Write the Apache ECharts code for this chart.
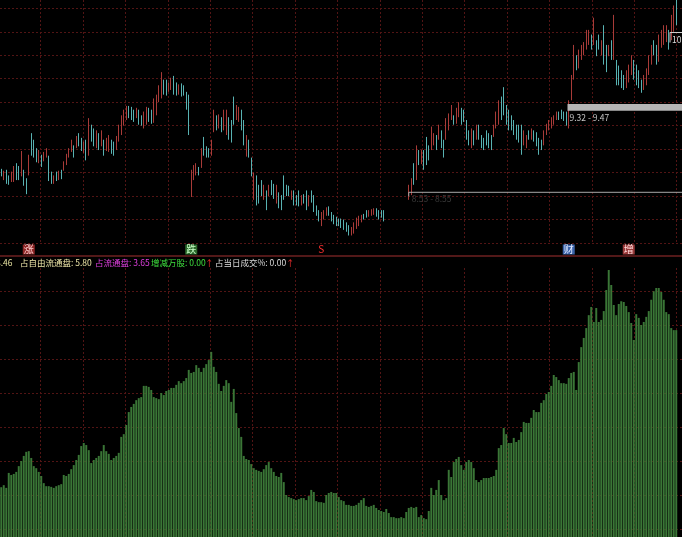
<!DOCTYPE html>
<html><head><meta charset="utf-8">
<script src="https://cdn.jsdelivr.net/npm/echarts@6/dist/echarts.min.js"></script>
<style>html,body{margin:0;padding:0;background:#000;overflow:hidden}#c{width:682px;height:537px}</style>
</head><body><div id="c"></div><script>
// ---------- data ----------
const opens = [
8.79,8.67,8.78,8.72,8.65,8.65,8.85,8.82,8.71,8.78,
8.69,8.72,9.17,9.10,9.01,8.85,8.94,8.87,8.91,8.93,
8.76,8.63,8.76,8.67,8.78,8.77,8.83,8.91,8.97,9.04,
9.01,9.17,9.12,8.96,9.10,8.93,9.26,9.22,9.01,9.17,
9.03,9.10,8.98,8.97,9.10,9.08,8.99,9.08,9.15,9.25,
9.31,9.46,9.45,9.42,9.33,9.42,9.36,9.22,9.26,9.44,
9.42,9.28,9.36,9.50,9.54,9.74,9.74,9.61,9.63,9.78,
9.71,9.58,9.70,9.68,9.61,9.58,8.49,8.67,8.72,8.81,
8.80,9.13,9.03,9.01,8.93,9.18,9.36,9.22,9.34,9.20,
9.15,9.34,9.31,9.56,9.31,9.29,9.42,9.31,8.92,9.10,
8.91,8.46,8.72,8.62,8.67,8.46,8.56,8.50,8.67,8.63,
8.42,8.54,8.51,8.72,8.62,8.61,8.46,8.56,8.51,8.56,
8.40,8.52,8.56,8.39,8.56,8.51,8.40,8.35,8.18,8.25,
8.29,8.39,8.33,8.30,8.28,8.26,8.26,8.25,8.22,8.19,
8.08,8.10,8.15,8.18,8.22,8.31,8.35,8.28,8.29,8.30,
8.37,8.35,8.35,8.35,null,null,null,null,null,null,
null,null,null,8.46,8.51,8.85,8.67,8.99,8.84,8.99,
9.13,9.04,8.99,9.04,9.15,9.10,9.20,9.10,9.10,9.20,
9.31,9.36,9.27,9.34,9.44,9.42,9.31,9.20,9.01,9.20,
9.10,9.26,9.15,9.12,9.20,9.17,9.15,9.13,9.22,9.26,
9.56,9.66,9.47,9.42,9.36,9.31,9.26,9.26,9.26,9.04,
9.01,9.20,9.10,9.20,9.18,9.12,9.10,9.04,9.15,9.20,
9.22,9.26,9.31,9.40,9.42,9.40,9.40,9.22,9.52,9.74,
10.00,9.86,9.95,10.00,10.06,10.11,10.22,10.11,10.16,10.22,
10.00,10.32,10.11,9.99,10.16,9.95,9.95,9.89,9.84,9.79,
9.65,9.71,9.79,9.95,9.90,9.84,9.74,9.63,9.68,9.79,
9.90,10.16,10.11,9.93,10.08,10.11,10.14,10.27,10.16,10.25,
10.59];
const closes = [
8.71,8.77,8.63,8.62,8.76,8.82,8.67,8.67,8.98,8.61,
8.52,8.94,8.93,8.91,8.86,8.99,8.81,8.97,9.01,8.66,
8.63,8.72,8.66,8.77,8.68,8.87,8.95,9.01,9.10,8.91,
9.14,9.03,8.98,9.08,8.88,9.33,9.08,9.03,9.20,8.99,
9.20,8.93,9.12,9.15,8.95,8.93,9.14,9.26,9.36,9.42,
9.46,9.33,9.31,9.29,9.44,9.26,9.25,9.40,9.45,9.29,
9.27,9.54,9.58,9.68,9.82,9.58,9.57,9.71,9.76,9.58,
9.57,9.69,9.56,9.57,9.42,9.15,8.78,8.83,8.85,8.72,
9.01,8.93,8.91,8.91,9.10,9.42,9.20,9.37,9.18,9.42,
9.42,9.10,9.07,9.26,9.47,9.45,9.20,9.04,9.15,8.91,
8.71,8.75,8.40,8.42,8.50,8.62,8.35,8.62,8.51,8.47,
8.62,8.37,8.35,8.46,8.50,8.50,8.56,8.40,8.40,8.39,
8.51,8.42,8.35,8.51,8.43,8.33,8.29,8.23,8.33,8.35,
8.38,8.29,8.23,8.20,8.18,8.18,8.16,8.14,8.12,8.08,
8.17,8.22,8.27,8.29,8.30,8.25,8.27,8.35,8.36,8.37,
8.28,8.25,8.27,8.23,null,null,null,null,null,null,
null,null,null,8.62,8.69,8.62,9.04,8.83,8.99,8.78,
8.83,8.88,9.24,9.17,8.99,9.26,9.01,8.91,9.33,9.38,
9.47,9.26,9.44,9.50,9.26,9.29,9.10,9.04,9.22,9.04,
9.26,9.10,9.01,8.99,9.04,9.01,8.99,9.26,9.40,9.52,
9.31,9.36,9.26,9.20,9.20,9.15,9.10,9.07,8.94,9.20,
9.15,9.10,9.22,9.08,9.03,8.94,8.99,9.20,9.27,9.31,
9.34,9.36,9.40,9.31,9.32,9.30,9.25,9.52,9.79,10.11,
9.84,10.06,10.11,10.14,10.27,10.27,10.06,10.40,9.99,10.06,
10.16,9.90,9.82,10.11,9.95,10.43,9.68,9.68,9.65,9.63,
9.84,9.90,10.00,9.74,9.68,9.65,9.60,9.79,9.86,10.00,
10.11,10.00,9.90,10.22,10.27,10.32,10.32,10.06,10.43,10.53,
10.32];
const lows = [
8.71,8.67,8.63,8.62,8.65,8.65,8.67,8.67,8.71,8.61,
8.52,8.72,8.93,8.91,8.86,8.85,8.81,8.87,8.91,8.66,
8.63,8.63,8.66,8.67,8.68,8.77,8.83,8.91,8.97,8.91,
9.01,9.03,8.98,8.96,8.88,8.93,9.08,9.03,9.01,8.99,
9.03,8.93,8.98,8.97,8.95,8.93,8.99,9.08,9.15,9.25,
9.31,9.33,9.31,9.29,9.33,9.26,9.25,9.22,9.26,9.29,
9.27,9.28,9.36,9.50,9.54,9.58,9.57,9.61,9.63,9.58,
9.57,9.58,9.56,9.57,9.42,9.15,8.49,8.67,8.72,8.72,
8.80,8.93,8.91,8.91,8.93,9.18,9.20,9.22,9.18,9.20,
9.15,9.10,9.07,9.26,9.31,9.29,9.20,9.04,8.92,8.91,
8.71,8.46,8.40,8.42,8.50,8.46,8.35,8.50,8.51,8.47,
8.42,8.37,8.35,8.46,8.50,8.50,8.46,8.40,8.40,8.39,
8.40,8.42,8.35,8.39,8.43,8.33,8.29,8.23,8.18,8.25,
8.29,8.29,8.23,8.20,8.18,8.18,8.16,8.14,8.12,8.08,
8.08,8.10,8.15,8.18,8.22,8.25,8.27,8.28,8.29,8.30,
8.28,8.25,8.27,8.23,null,null,null,null,null,null,
null,null,null,8.46,8.51,8.62,8.67,8.83,8.84,8.78,
8.83,8.88,8.99,9.04,8.99,9.10,9.01,8.91,9.10,9.20,
9.31,9.26,9.27,9.34,9.26,9.29,9.10,9.04,9.01,9.04,
9.10,9.10,9.01,8.99,9.04,9.01,8.99,9.13,9.22,9.26,
9.31,9.36,9.26,9.20,9.20,9.15,9.10,9.07,8.94,9.04,
9.01,9.10,9.10,9.08,9.03,8.94,8.99,9.04,9.15,9.20,
9.22,9.26,9.31,9.31,9.32,9.30,9.25,9.22,9.52,9.74,
9.84,9.86,9.95,10.00,10.06,10.11,10.06,10.11,9.99,10.06,
10.00,9.90,9.82,9.99,9.95,9.95,9.68,9.68,9.65,9.63,
9.65,9.71,9.79,9.74,9.68,9.65,9.60,9.63,9.68,9.79,
9.90,10.00,9.90,9.93,10.08,10.11,10.14,10.06,10.16,10.25,
10.32];
const highs = [
8.79,8.77,8.78,8.72,8.76,8.82,8.85,8.82,8.98,8.78,
8.69,8.94,9.17,9.10,9.01,8.99,8.94,8.97,9.01,8.93,
8.76,8.72,8.76,8.77,8.78,8.87,8.95,9.01,9.10,9.04,
9.14,9.17,9.12,9.08,9.10,9.33,9.26,9.22,9.20,9.17,
9.20,9.10,9.12,9.15,9.10,9.08,9.14,9.26,9.36,9.42,
9.46,9.46,9.45,9.42,9.44,9.42,9.36,9.40,9.45,9.44,
9.42,9.54,9.58,9.68,9.82,9.74,9.74,9.71,9.76,9.78,
9.71,9.69,9.70,9.68,9.61,9.58,8.78,8.83,8.85,8.81,
9.01,9.13,9.03,9.01,9.10,9.42,9.36,9.37,9.34,9.42,
9.42,9.34,9.31,9.56,9.47,9.45,9.42,9.31,9.15,9.10,
8.91,8.75,8.72,8.62,8.67,8.62,8.56,8.62,8.67,8.63,
8.62,8.54,8.51,8.72,8.62,8.61,8.56,8.56,8.51,8.56,
8.51,8.52,8.56,8.51,8.56,8.51,8.40,8.35,8.33,8.35,
8.38,8.39,8.33,8.30,8.28,8.26,8.26,8.25,8.22,8.19,
8.17,8.22,8.27,8.29,8.30,8.31,8.35,8.35,8.36,8.37,
8.37,8.35,8.35,8.35,null,null,null,null,null,null,
null,null,null,8.62,8.69,8.85,9.04,8.99,8.99,8.99,
9.13,9.04,9.24,9.17,9.15,9.26,9.20,9.10,9.33,9.38,
9.47,9.36,9.44,9.50,9.44,9.42,9.31,9.20,9.22,9.20,
9.26,9.26,9.15,9.12,9.20,9.17,9.15,9.26,9.40,9.52,
9.56,9.66,9.47,9.42,9.36,9.31,9.26,9.26,9.26,9.20,
9.15,9.20,9.22,9.20,9.18,9.12,9.10,9.20,9.27,9.31,
9.34,9.36,9.40,9.40,9.42,9.40,9.40,9.52,9.79,10.11,
10.00,10.06,10.11,10.14,10.27,10.27,10.22,10.40,10.16,10.22,
10.16,10.32,10.11,10.11,10.16,10.43,9.95,9.89,9.84,9.79,
9.84,9.90,10.00,9.95,9.90,9.84,9.74,9.79,9.86,10.00,
10.11,10.16,10.11,10.22,10.27,10.32,10.32,10.27,10.43,10.53,
10.59];
const holdings = [
2.25,2.31,2.23,2.67,2.61,2.64,2.70,2.87,3.02,3.17,
3.29,3.31,3.11,2.87,2.81,2.70,2.58,2.37,2.28,2.28,
2.26,2.23,2.28,2.31,2.34,2.61,2.58,2.64,2.78,2.90,
3.05,3.20,3.46,3.55,3.49,3.34,2.96,3.05,3.11,3.17,
3.31,3.49,3.31,3.23,3.05,3.11,3.17,3.26,3.73,3.81,
4.08,4.46,4.61,4.70,4.81,4.87,4.90,5.23,5.23,5.20,
5.11,4.90,4.87,4.84,5.02,4.96,5.08,5.11,5.17,5.17,
5.26,5.37,5.31,5.37,5.46,5.70,5.61,5.64,5.84,5.76,
5.64,5.76,5.87,5.99,6.23,5.79,5.64,5.29,5.08,5.23,
5.40,5.31,4.76,5.14,4.43,3.99,3.73,3.17,3.08,3.05,
2.93,2.81,2.76,2.73,2.70,2.78,2.90,2.99,2.81,2.70,
2.58,2.55,2.67,2.40,2.02,1.96,1.93,1.90,1.87,1.90,
1.93,1.93,1.87,1.99,2.17,2.11,1.84,1.81,1.81,1.79,
2.02,2.08,2.11,2.08,2.08,1.96,1.87,1.84,1.73,1.73,
1.70,1.70,1.73,1.79,1.87,1.93,1.70,1.67,1.70,1.73,
1.64,1.58,1.55,1.52,1.61,1.49,1.37,1.37,1.34,1.34,
1.37,1.34,1.52,1.64,1.67,1.64,1.67,1.37,1.43,1.34,
1.31,1.55,2.23,2.02,2.17,2.46,2.02,1.87,1.93,2.76,
2.55,2.99,3.08,3.14,2.90,2.76,2.99,3.05,2.99,2.81,
2.46,2.40,2.46,2.52,2.52,2.52,2.55,2.58,2.76,3.40,
3.49,3.99,3.81,3.55,3.55,3.70,3.58,3.64,3.87,4.17,
4.14,4.14,4.29,4.52,4.46,4.46,4.73,4.81,4.99,5.05,
5.23,5.55,5.49,5.40,5.31,5.31,5.29,5.46,5.61,5.64,
5.11,5.93,6.37,6.64,6.93,7.31,7.55,7.11,7.52,7.11,
7.17,7.43,8.05,8.64,8.20,7.61,7.31,7.64,7.72,7.70,
7.58,7.40,7.08,6.58,7.34,7.23,7.02,7.11,7.26,7.43,
7.76,8.01,8.11,8.11,7.99,7.76,7.40,7.34,6.93,6.87,
6.87];
const categories = opens.map((_, i) => String(i + 1));
const eventIndex = [11, 76, 128, 227, 251];
const eventText = ['涨', '跌', 'S', '财', '增'];
const gapBand = [9.32, 9.47];
const gapLow = [8.53, 8.55];
const gapHigh = [10.24, 10.26];
const legendItems = [
  {text: '8.46', color: '#e6e2a0'},
  {text: '占自由流通盘: 5.80', color: '#eee6a8'},
  {text: '占流通盘: 3.65', color: '#e040e0'},
  {text: '增减万股: 0.00', color: '#3ee03e'},
  {text: '↑', color: '#ff3030'},
  {text: '占当日成交%: 0.00', color: '#dedede'},
  {text: '↑', color: '#ff3030'}
];

// ---------- chart ----------
const FONT = '"Noto Sans CJK SC", "Noto Sans", sans-serif';
const GRID_RED = '#521414';
const dash = {color: GRID_RED, type: [2, 2], width: 1};
const eventStyles = [
  {fill: '#ffd0d0', backgroundColor: '#8e2626'},
  {fill: '#c8ffc8', backgroundColor: '#2c6a2c'},
  {fill: '#ff3030', backgroundColor: 'transparent'},
  {fill: '#dfe8ff', backgroundColor: '#3a62a8'},
  {fill: '#ffd8d8', backgroundColor: '#9a3a3a'}
];
const legendX = [-4, 20, 95, 151, 205, 215, 286];

const candleData = opens.map((o, i) => o == null ? ['-', '-', '-', '-'] : [o, closes[i], lows[i], highs[i]]);

const hidden = {show: false};
const lineAxis = (extra) => Object.assign({
  type: 'value', show: true, axisLine: hidden, axisTick: hidden, axisLabel: hidden,
  splitLine: {show: true, lineStyle: dash}
}, extra);
const g = (o) => Object.assign({outerBoundsMode: 'none', containLabel: false}, o);

const chart = echarts.init(document.getElementById('c'), null, {renderer: 'canvas'});
const option = {
  backgroundColor: '#000',
  animation: false,
  grid: [
    g({left: 0, top: 8.3, width: 677.5, height: 234.7}),
    g({left: 0, top: 257.7, width: 677.5, height: 306}),
    g({left: 0, top: 8.3, width: 682, height: 234.7}),
    g({left: 40.7, top: 0, width: 636, height: 243}),
    g({left: 0, top: 291.7, width: 682, height: 238}),
    g({left: 40.7, top: 268, width: 636, height: 269})
  ],
  xAxis: [
    {type: 'category', gridIndex: 0, data: categories, show: false, boundaryGap: true},
    {type: 'category', gridIndex: 1, data: categories, show: false, boundaryGap: true},
    {type: 'value', gridIndex: 2, show: false, min: 0, max: 1},
    lineAxis({gridIndex: 3, min: 0, max: 15, interval: 1}),
    {type: 'value', gridIndex: 4, show: false, min: 0, max: 1},
    lineAxis({gridIndex: 5, min: 0, max: 15, interval: 1})
  ],
  yAxis: [
    {type: 'value', gridIndex: 0, show: false, min: 8.0, max: 10.5, interval: 0.25},
    {type: 'value', gridIndex: 1, show: false, min: 0, max: 9, interval: 1},
    lineAxis({gridIndex: 2, min: 0, max: 10, interval: 1}),
    {type: 'value', gridIndex: 3, show: false, min: 0, max: 1},
    lineAxis({gridIndex: 4, min: 0, max: 7, interval: 1}),
    {type: 'value', gridIndex: 5, show: false, min: 0, max: 1}
  ],
  series: [
    {
      type: 'candlestick', xAxisIndex: 0, yAxisIndex: 0, data: candleData,
      clip: false, barWidth: 1.3, z: 3,
      itemStyle: {color: '#a83b38', color0: '#58b2b2', borderColor: '#a83b38', borderColor0: '#58b2b2', borderWidth: 1}
    },
    {
      type: 'bar', xAxisIndex: 1, yAxisIndex: 1, data: holdings,
      barCategoryGap: '22%', z: 3,
      itemStyle: {color: '#3a7636'}
    }
  ],
  graphic: [
    {type: 'line', shape: {x1: 0, y1: 256, x2: 682, y2: 256}, style: {stroke: '#6e2020', lineWidth: 1.5}, z: 10},
  ].concat(legendItems.map((it, k) => ({
    type: 'text', x: legendX[k], y: 262.5, z: 10,
    style: {text: it.text, fill: it.color, font: '8.5px ' + FONT, verticalAlign: 'middle', textAlign: 'left'}
  })))
};
chart.setOption(option);

// overlays positioned through the candle series' own scales
const px = (i, v) => chart.convertToPixel({seriesIndex: 0}, [i, v]);
const step = px(1, 9)[0] - px(0, 9)[0];
const bandTop = px(227, 9.48), bandBot = px(227, 9.41);
const bandLeft = bandTop[0] - step / 2;
const lowLine = px(163, 8.54);
const hiLine = px(268, 10.242);
const hiLeft = hiLine[0] - step / 2;
const events = eventIndex.map((idx, k) => ({
  type: 'text', x: px(idx, 9)[0], y: 249.5, z: 10,
  style: Object.assign({text: eventText[k], font: '10px ' + FONT, textAlign: 'center', verticalAlign: 'middle', padding: [0, 1]}, eventStyles[k])
}));
chart.setOption({
  graphic: option.graphic.concat(events, [
    {type: 'rect', shape: {x: bandLeft, y: bandTop[1], width: 682 - bandLeft, height: bandBot[1] - bandTop[1]}, style: {fill: '#b4b4b4'}, z: 5},
    {type: 'text', x: bandLeft + 2, y: bandBot[1] + 7, z: 5,
      style: {text: gapBand[0].toFixed(2) + ' - ' + gapBand[1].toFixed(2), fill: '#c4c4c4', font: '8.5px ' + FONT, verticalAlign: 'middle'}},
    {type: 'polyline', shape: {points: [[lowLine[0], lowLine[1] + 4], [lowLine[0], lowLine[1]], [682, lowLine[1]]]}, style: {stroke: '#a8a8a8', lineWidth: 1, fill: null}, z: 5},
    {type: 'text', x: lowLine[0] + 3, y: lowLine[1] + 6, z: 5,
      style: {text: gapLow[0].toFixed(2) + ' - ' + gapLow[1].toFixed(2), fill: '#3a3a3a', font: '8.5px ' + FONT, verticalAlign: 'middle'}},
    {type: 'polyline', shape: {points: [[hiLeft, hiLine[1] + 10], [hiLeft, hiLine[1]], [682, hiLine[1]]]}, style: {stroke: '#d0d0d0', lineWidth: 1, fill: null}, z: 5},
    {type: 'text', x: hiLeft + 2, y: hiLine[1] + 7.5, z: 5,
      style: {text: gapHigh[0].toFixed(2) + ' - ' + gapHigh[1].toFixed(2), fill: '#dcdcdc', font: '8.5px ' + FONT, verticalAlign: 'middle'}}
  ])
});
</script></body></html>
